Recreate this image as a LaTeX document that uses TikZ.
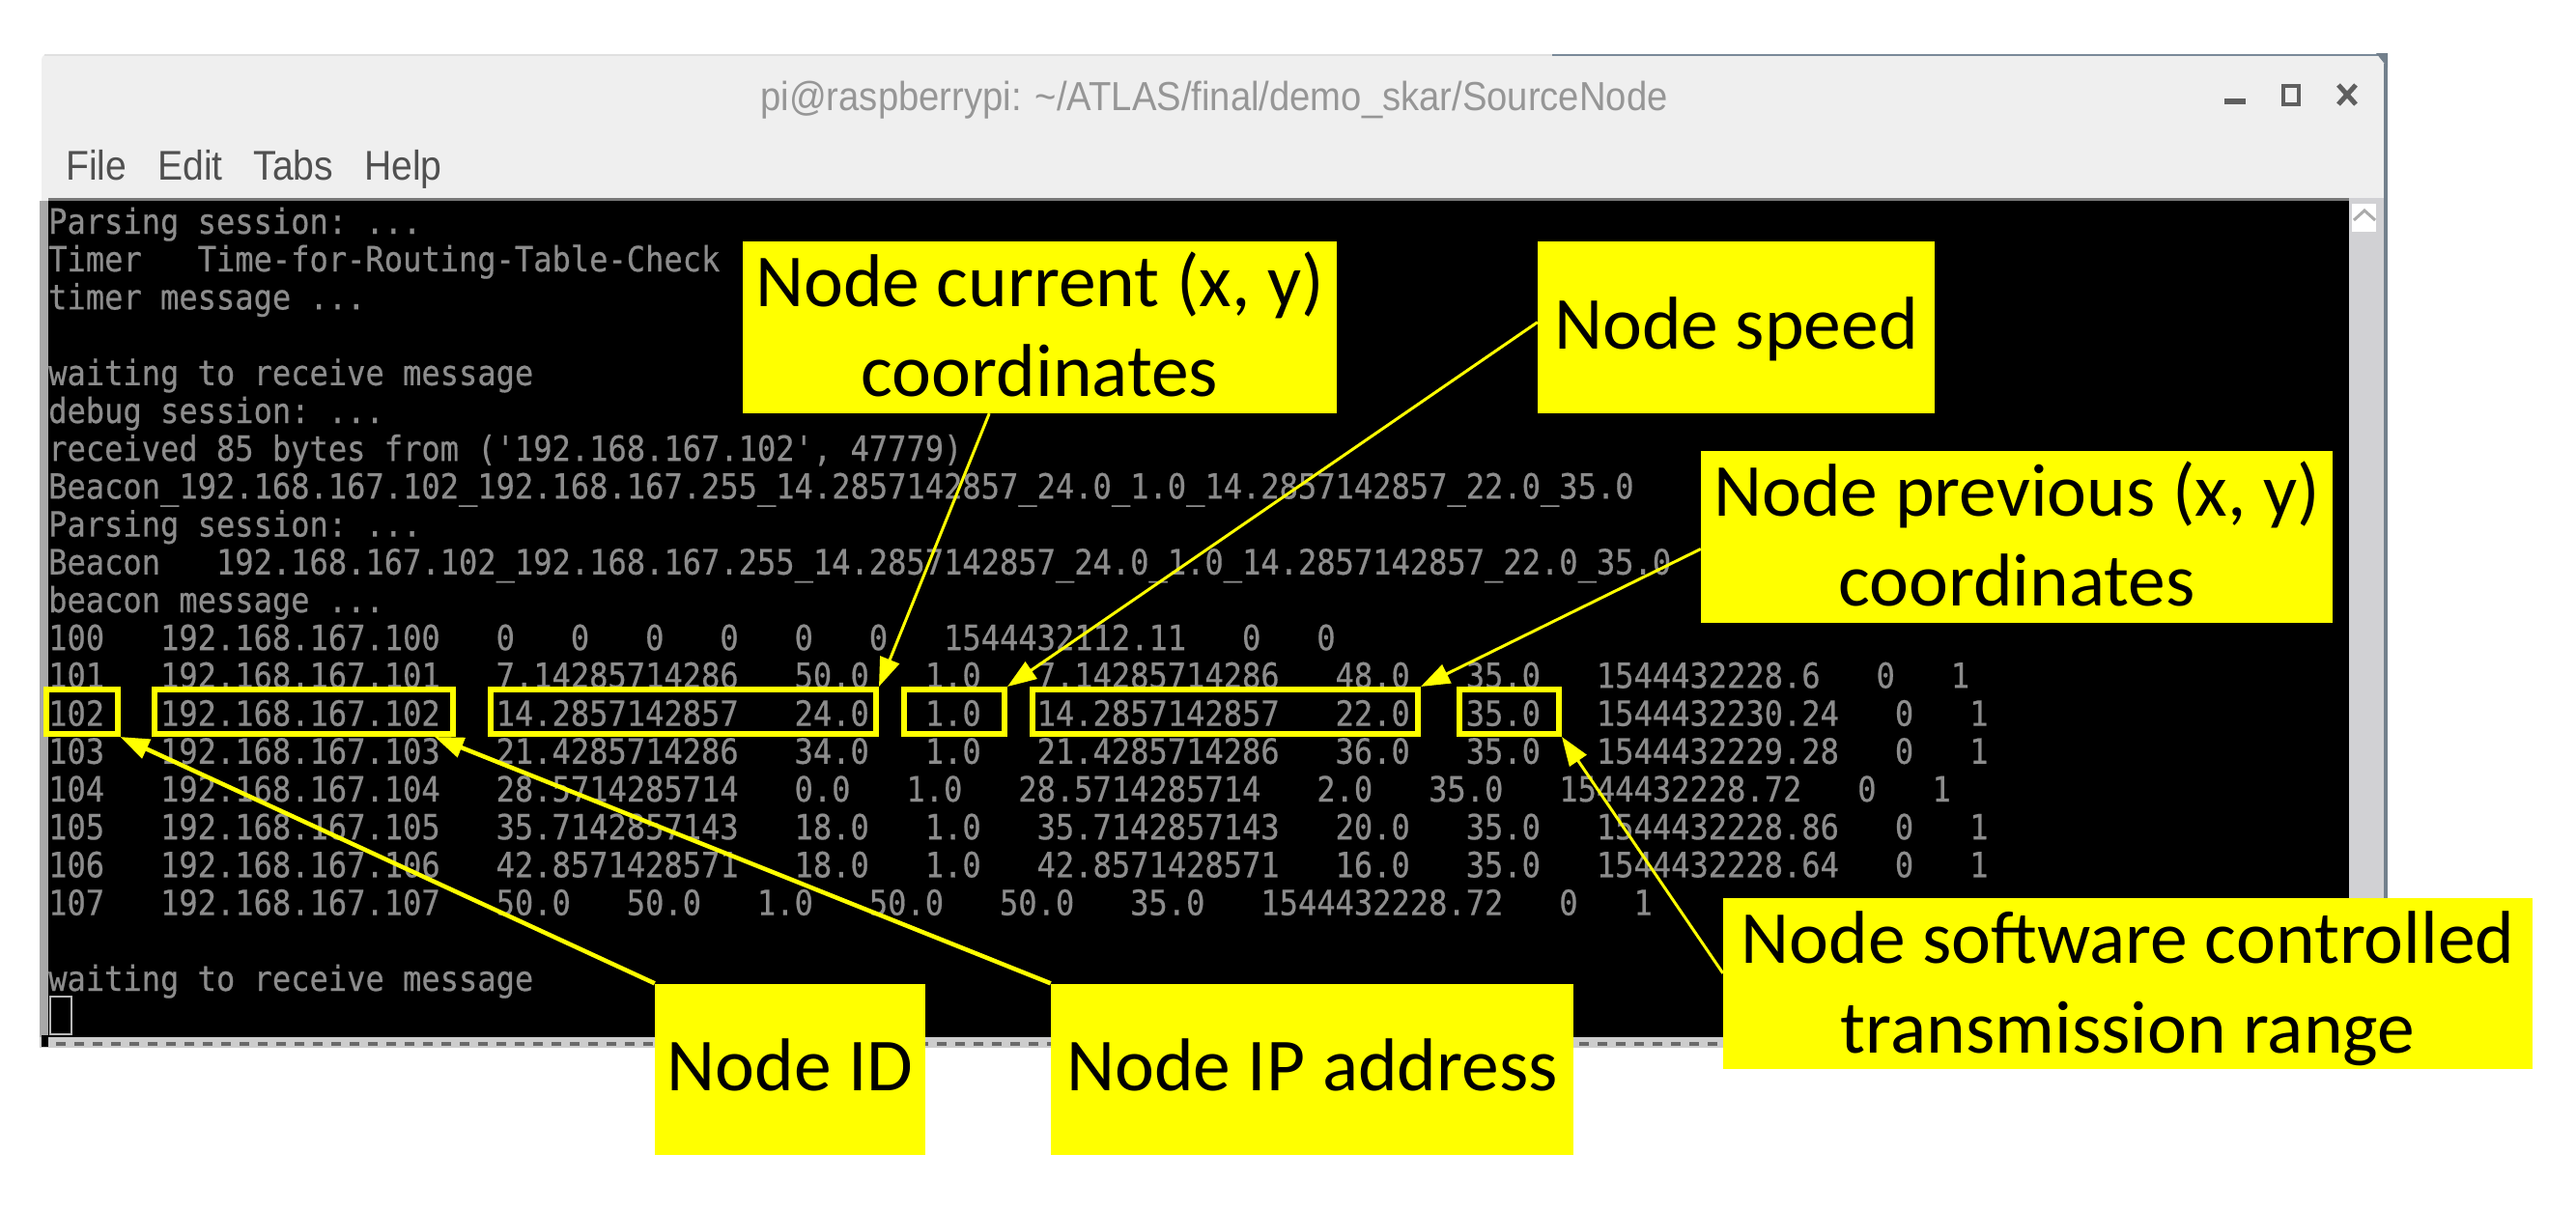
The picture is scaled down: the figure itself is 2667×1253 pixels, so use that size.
\documentclass[tikz,border=0pt]{standalone}
\usepackage{fontspec}
\setmainfont{Carlito}
\newfontfamily\termfont[FakeStretch=0.891,FakeBold=0.5]{DejaVu Sans Mono}
\newfontfamily\uifont[FakeStretch=0.91]{Liberation Sans}
\usetikzlibrary{arrows.meta,calc}
\definecolor{callout}{RGB}{255,255,0}
\definecolor{termtext}{RGB}{140,140,140}
\definecolor{chrome}{RGB}{239,239,239}
\definecolor{scrollbg}{RGB}{209,209,212}
\definecolor{edgeA}{RGB}{168,168,168}
\definecolor{edgeB}{RGB}{205,205,205}
\definecolor{edgeC}{RGB}{105,105,105}
\definecolor{edgeD}{RGB}{120,120,120}
\definecolor{edgeE}{RGB}{224,224,224}
\definecolor{edgeF}{RGB}{122,138,153}
\definecolor{edgeG}{RGB}{115,128,140}
\definecolor{iconA}{RGB}{95,95,95}
\definecolor{menutext}{RGB}{80,80,80}
\definecolor{titletext}{RGB}{150,150,150}
\definecolor{btn}{RGB}{170,170,170}
\definecolor{cursorc}{RGB}{184,184,184}
\tikzset{
  termline/.style={anchor=base west,inner sep=0pt,text=termtext,font=\termfont\fontsize{36}{36}\selectfont},
  callout/.style={fill=callout,inner sep=0pt,align=center,text=black,font=\fontsize{77.5}{93}\selectfont},
  callout one/.style={callout,text height=44pt,text depth=0pt},
  mark box/.style={draw=callout,line width=6pt,inner sep=0pt,fill=none},
  leader/.style={draw=callout,line width=3pt,-{Triangle[length=30pt,width=21pt]}},
  leader thick/.style={leader,line width=4.5pt},
}
\begin{document}
\begin{tikzpicture}[x=1pt,y=-1pt]
\path[use as bounding box,fill=white] (0,0) rectangle (2667,1253);
% window
\fill[rounded corners=6pt,chrome] (43,56) rectangle (2471,300);
\fill[scrollbg] (2432,205) rectangle (2471,1084);
\fill[edgeA] (41,208) rectangle (50,1084);
\fill[black] (50,208) rectangle (2432,1076);
\fill[edgeB] (41,1074) rectangle (2432,1085);
\draw[edgeC,line width=3.5pt,dash pattern=on 10pt off 9pt] (58,1081) -- (2432,1081);
\fill[black] (43,1072) rectangle (50,1084);
\fill[edgeD] (50,205) rectangle (2432,208);
\draw[edgeE,line width=2pt] (46,57) -- (1607,57);
\draw[edgeF,line width=2.5pt] (1607,57) -- (2462,57);
\draw[edgeG,line width=4pt] (2470,66) -- (2470,930);
\fill[edgeG] (2460,55) -- (2472,55) -- (2472,70) -- cycle;
% scrollbar button
\fill[white] (2435,211) rectangle (2460,240);
\draw[btn,line width=3pt] (2437,228) -- (2448,218) -- (2459,228);
% window controls
\fill[iconA] (2303,102) rectangle (2325,108);
\draw[iconA,line width=3.5pt] (2364,89) rectangle (2380,108);
\draw[iconA,line width=5pt] (2421,88) -- (2439,108) (2439,88) -- (2421,108);
% title and menu
\node[anchor=center,inner sep=0pt,text=titletext] (title) at (1257,104)
  {\uifont\fontsize{42}{42}\selectfont pi@raspberrypi: \char`\~/ATLAS/final/demo\_skar/SourceNode};
\node[anchor=west,inner sep=0pt,text=menutext] (menu) at (68,175)
  {\uifont\fontsize{43}{43}\selectfont File\hspace{32pt}Edit\hspace{32pt}Tabs\hspace{32pt}Help};
% terminal text
\node[termline] (l0) at (50,242) {Parsing~session:~...};
\node[termline] (l1) at (50,281) {Timer~~~Time-for-Routing-Table-Check};
\node[termline] (l2) at (50,320.4) {timer~message~...};
\node[termline] (l4) at (50,398.8) {waiting~to~receive~message};
\node[termline] (l5) at (50,438) {debug~session:~...};
\node[termline] (l6) at (50,477.2) {received~85~bytes~from~('192.168.167.102',~47779)};
\node[termline] (l7) at (50,516.4) {Beacon\_192.168.167.102\_192.168.167.255\_14.2857142857\_24.0\_1.0\_14.2857142857\_22.0\_35.0};
\node[termline] (l8) at (50,555.6) {Parsing~session:~...};
\node[termline] (l9) at (50,594.8) {Beacon~~~192.168.167.102\_192.168.167.255\_14.2857142857\_24.0\_1.0\_14.2857142857\_22.0\_35.0};
\node[termline] (l10) at (50,634) {beacon~message~...};
\node[termline] (l11) at (50,673.2) {100~~~192.168.167.100~~~0~~~0~~~0~~~0~~~0~~~0~~~1544432112.11~~~0~~~0};
\node[termline] (l12) at (50,712.4) {101~~~192.168.167.101~~~7.14285714286~~~50.0~~~1.0~~~7.14285714286~~~48.0~~~35.0~~~1544432228.6~~~0~~~1};
\node[termline] (l13) at (50,751.6) {102~~~192.168.167.102~~~14.2857142857~~~24.0~~~1.0~~~14.2857142857~~~22.0~~~35.0~~~1544432230.24~~~0~~~1};
\node[termline] (l14) at (50,790.8) {103~~~192.168.167.103~~~21.4285714286~~~34.0~~~1.0~~~21.4285714286~~~36.0~~~35.0~~~1544432229.28~~~0~~~1};
\node[termline] (l15) at (50,830) {104~~~192.168.167.104~~~28.5714285714~~~0.0~~~1.0~~~28.5714285714~~~2.0~~~35.0~~~1544432228.72~~~0~~~1};
\node[termline] (l16) at (50,869.2) {105~~~192.168.167.105~~~35.7142857143~~~18.0~~~1.0~~~35.7142857143~~~20.0~~~35.0~~~1544432228.86~~~0~~~1};
\node[termline] (l17) at (50,908.4) {106~~~192.168.167.106~~~42.8571428571~~~18.0~~~1.0~~~42.8571428571~~~16.0~~~35.0~~~1544432228.64~~~0~~~1};
\node[termline] (l18) at (50,947.6) {107~~~192.168.167.107~~~50.0~~~50.0~~~1.0~~~50.0~~~50.0~~~35.0~~~1544432228.72~~~0~~~1};
\node[termline] (l20) at (50,1026) {waiting~to~receive~message};
\draw[cursorc,line width=2.5pt] (52,1032) rectangle (74,1071);
% marks on row 102
\node[mark box,minimum width=74pt,minimum height=46pt,outer sep=3pt] (mid) at (84.5,737) {};
\node[mark box,minimum width=309pt,minimum height=46pt,outer sep=3pt] (mip) at (314.5,737) {};
\node[mark box,minimum width=399pt,minimum height=46pt,outer sep=3pt] (mcur) at (707.5,737) {};
\node[mark box,minimum width=104pt,minimum height=46pt,outer sep=3pt] (mspd) at (988,737) {};
\node[mark box,minimum width=399pt,minimum height=46pt,outer sep=3pt] (mprv) at (1268.5,737) {};
\node[mark box,minimum width=103pt,minimum height=46pt,outer sep=3pt] (mrng) at (1562.5,737) {};
% callouts
\node[callout,minimum width=615pt,minimum height=178pt] (cur) at (1076.5,339) {Node current (x, y)\\coordinates\rule[-6pt]{0pt}{1pt}};
\node[callout one,minimum width=411pt,minimum height=178pt] (spd) at (1797.5,339) {Node speed};
\node[callout,minimum width=654pt,minimum height=178pt] (prv) at (2088,556) {Node previous (x, y)\\coordinates\rule[-6pt]{0pt}{1pt}};
\node[callout one,minimum width=280pt,minimum height=177pt] (cid) at (818,1107) {Node ID};
\node[callout one,minimum width=541pt,minimum height=177pt] (cip) at (1358.5,1107) {Node IP address};
\node[callout,minimum width=838pt,minimum height=177pt] (rng) at (2203,1018.5) {\rule{0pt}{64pt}Node software controlled\\transmission range};
% leaders
\draw[leader] ($(cur.south west)!0.415!(cur.south east)$) -- (mcur.north east);
\draw[leader] ($(spd.north west)!0.47!(spd.south west)$) -- (mspd.north east);
\draw[leader] ($(prv.north west)!0.57!(prv.south west)$) -- (mprv.north east);
\draw[leader] ($(rng.north west)!0.44!(rng.south west)$) -- (mrng.south east);
\draw[leader thick] (cid.north west) -- (mid.south east);
\draw[leader thick] (cip.north west) -- ($(mip.south west)!0.93!(mip.south east)$);
\end{tikzpicture}
\end{document}
